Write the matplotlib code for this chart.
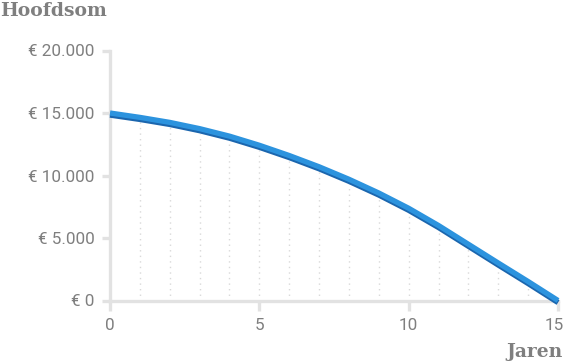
import matplotlib
matplotlib.use('Agg')
import matplotlib.pyplot as plt
import matplotlib.patheffects as pe
import matplotlib.transforms as mtransforms

# DATA
jaren = [0, 1, 2, 3, 4, 5, 6, 7, 8, 9, 10, 11, 12, 13, 14, 15]
hoofdsom = [15000, 14650, 14250, 13750, 13150, 12420, 11600, 10700,
            9700, 8600, 7380, 6000, 4500, 3000, 1520, 0]
y_ticks = [0, 5000, 10000, 15000, 20000]
y_labels = ['€ 0', '€ 5.000', '€ 10.000', '€ 15.000', '€ 20.000']
x_ticks = [0, 5, 10, 15]

# STYLE
axis_grey = '#e2e2e2'
text_grey = '#7f7f7f'
blue = '#2c93de'
blue_dark = '#1b66ae'

fig = plt.figure(figsize=(5.63, 3.63), dpi=100)
ax = fig.add_axes([110/563, 1-300.5/363, 448/563, 250/363])
ax.set_xlim(0, 15)
ax.set_ylim(0, 20000)

##dotted guides under the curve
for x, y in zip(jaren[1:-1], hoofdsom[1:-1]):
    ax.vlines(x, 0, y - 400, colors='#d9d9d9', linestyles=(0, (1, 3)), linewidth=1)

##curve
ax.plot(jaren, hoofdsom, color=blue, linewidth=3.8, solid_capstyle='butt',
        solid_joinstyle='round', clip_on=False, zorder=5,
        path_effects=[pe.SimpleLineShadow(offset=(0, -1.5), shadow_color=blue_dark, alpha=1, rho=1),
                      pe.Normal()])

##axes
for s in ['top', 'right']:
    ax.spines[s].set_visible(False)
for s in ['left', 'bottom']:
    ax.spines[s].set_color(axis_grey)
    ax.spines[s].set_linewidth(2.4)
ax.spines['bottom'].set_bounds(0, 15)

ax.set_yticks(y_ticks)
ax.set_yticklabels(y_labels)
ax.set_xticks(x_ticks)
ax.tick_params(axis='y', length=5.5, width=2.4, color=axis_grey, pad=5.5,
               labelcolor=text_grey, labelsize=12.3)
ax.tick_params(axis='x', length=7.5, width=2.4, color=axis_grey, pad=5,
               labelcolor=text_grey, labelsize=12.3)
for lbl in ax.get_xticklabels() + ax.get_yticklabels():
    lbl.set_fontfamily('Roboto')
##keep the last x label inside the picture
last = ax.get_xticklabels()[-1]
last.set_transform(last.get_transform() + mtransforms.ScaledTranslation(-4/100, 0, fig.dpi_scale_trans))

fig.text(0.0, 1-2/363, 'Hoofdsom', ha='left', va='top', fontsize=13.5,
         fontweight='bold', family='DejaVu Serif', color=text_grey)
fig.text(1.0, 1-361/363, 'Jaren', ha='right', va='bottom', fontsize=13.5,
         fontweight='bold', family='DejaVu Serif', color=text_grey)

plt.savefig('out.png', dpi=100)
